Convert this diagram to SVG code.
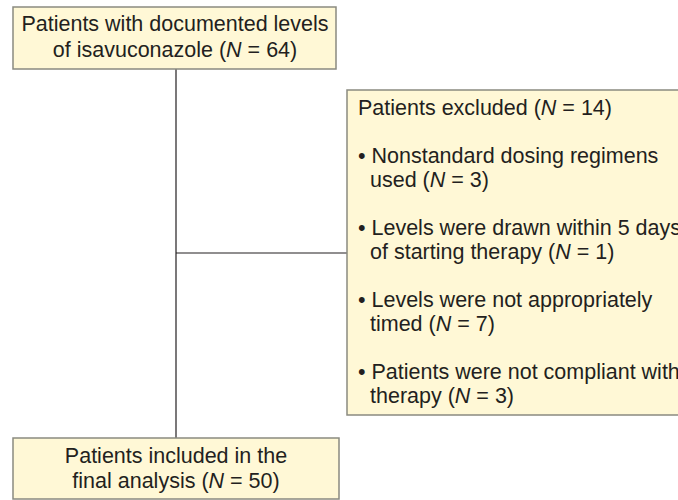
<svg xmlns="http://www.w3.org/2000/svg" width="678" height="500" viewBox="0 0 678 500">
<style>
.box{fill:#fff8d6;stroke:#8a8a80;stroke-width:1.5}
.t{font-family:"Liberation Sans",Arial,sans-serif;font-size:21.5px;fill:#231f20}
.c{text-anchor:middle}
.ln{stroke:#231f20;stroke-width:1.2;fill:none}
</style>
<rect width="678" height="500" fill="#ffffff"/>
<g id="connectors">
<line class="ln" x1="176" y1="69" x2="176" y2="438"/>
<line class="ln" x1="176" y1="253" x2="347" y2="253"/>
</g>
<g id="top">
<rect class="box" x="13" y="7" width="323" height="62"/>
<text class="t c" x="175" y="31">Patients with documented levels</text>
<text class="t c" x="175" y="57">of isavuconazole (<tspan font-style="italic">N</tspan> = 64)</text>
</g>
<g id="excluded">
<rect class="box" x="347" y="90" width="340" height="325"/>
<text class="t" x="358" y="115">Patients excluded (<tspan font-style="italic">N</tspan> = 14)</text>
<text class="t" x="358" y="163">• Nonstandard dosing regimens</text>
<text class="t" x="370" y="187">used (<tspan font-style="italic">N</tspan> = 3)</text>
<text class="t" x="358" y="235">• Levels were drawn within 5 days</text>
<text class="t" x="370" y="259">of starting therapy (<tspan font-style="italic">N</tspan> = 1)</text>
<text class="t" x="358" y="307">• Levels were not appropriately</text>
<text class="t" x="370" y="331">timed (<tspan font-style="italic">N</tspan> = 7)</text>
<text class="t" x="358" y="379">• Patients were not compliant with</text>
<text class="t" x="370" y="403">therapy (<tspan font-style="italic">N</tspan> = 3)</text>
</g>
<g id="included">
<rect class="box" x="13" y="438" width="326" height="61"/>
<text class="t c" x="176" y="463">Patients included in the</text>
<text class="t c" x="176" y="488">final analysis (<tspan font-style="italic">N</tspan> = 50)</text>
</g>
</svg>
